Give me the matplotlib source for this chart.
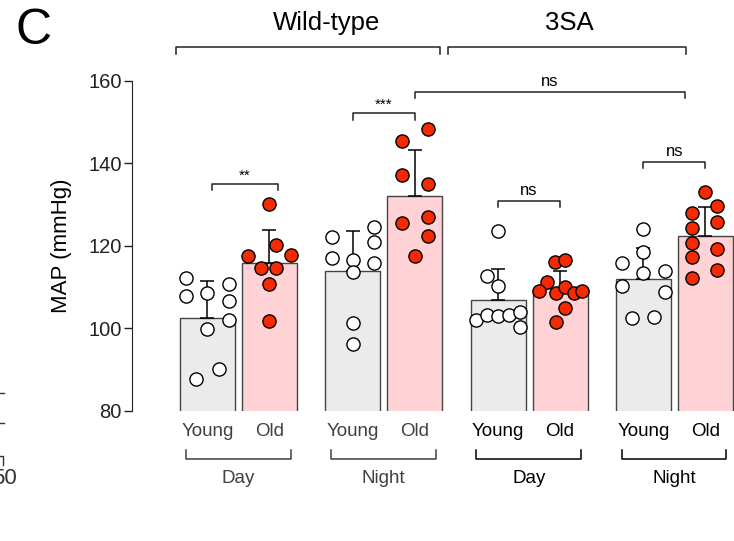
from matplotlib import pyplot as plt
import numpy as np

plt.rcParams['font.family'] = ['Liberation Sans', 'DejaVu Sans']

# bar order: WT day Y/O, WT night Y/O, 3SA day Y/O, 3SA night Y/O
genotypes = ['Wild-type', '3SA']
periods = ['Day', 'Night', 'Day', 'Night']
ages = ['Young', 'Old']

means = [102.5, 115.9, 113.9, 132.1, 106.8, 109.7, 112.0, 122.4]
sd = [9.0, 7.9, 9.7, 11.1, 7.6, 4.2, 7.4, 6.9]

points = [
    [112.1, 107.8, 108.5, 110.7, 106.7, 102.0, 99.7, 90.0, 87.8],
    [130.0, 117.6, 120.1, 117.7, 114.7, 114.7, 110.7, 101.8],
    [122.2, 116.9, 116.5, 113.6, 124.6, 120.8, 115.7, 101.2, 96.1],
    [145.4, 148.2, 137.1, 134.9, 125.4, 127.0, 122.4, 117.5],
    [123.6, 112.7, 110.3, 102.0, 103.2, 103.0, 103.2, 103.9, 100.4],
    [116.0, 116.5, 111.3, 109.1, 108.6, 109.9, 108.5, 109.1, 104.8, 101.6],
    [124.0, 118.4, 115.7, 113.3, 113.9, 110.2, 108.8, 102.4, 102.8],
    [133.1, 129.7, 127.9, 125.7, 124.4, 120.7, 119.1, 117.2, 114.1, 112.2],
]
jitter = [
    [-0.35, -0.35, 0, 0.35, 0.35, 0.35, 0, 0.18, -0.18],
    [0, -0.35, 0.11, 0.34, -0.13, 0.11, 0, 0],
    [-0.34, -0.34, 0, 0, 0.34, 0.34, 0.34, 0, 0],
    [-0.21, 0.21, -0.21, 0.21, -0.21, 0.21, 0.21, 0],
    [0, -0.18, 0, -0.35, -0.18, 0, 0.18, 0.35, 0.35],
    [-0.08, 0.08, -0.21, -0.34, -0.065, 0.08, 0.23, 0.35, 0.08, -0.065],
    [0, 0, -0.34, 0, 0.35, -0.34, 0.35, -0.18, 0.17],
    [0, 0.19, -0.21, 0.19, -0.21, -0.21, 0.19, -0.21, 0.19, -0.21],
]

# (left bar, right bar, label, bracket height)
sig = [(0, 1, '**', 135.0), (2, 3, '***', 152.1), (3, 7, 'ns', 157.3),
       (4, 5, 'ns', 130.9), (6, 7, 'ns', 140.4)]

pitch = 2.343
xpos = []
for g in range(4):
    xpos += [g * pitch, g * pitch + 1]
xpos = np.array(xpos)

fig = plt.figure(figsize=(7.34, 5.41), dpi=100)
ax = fig.add_axes([0.1794, 0.2409, 0.8206, 0.6099])

fill = ['#ebebeb', '#ffd2d6']
dot = ['white', '#f52a00']
for i in range(8):
    a = i % 2
    ax.bar(xpos[i], means[i], width=0.887, bottom=0, color=fill[a],
           edgecolor='#444444', linewidth=1.0, zorder=1)
    ax.errorbar(xpos[i], means[i], yerr=[[0], [sd[i]]], fmt='none',
                ecolor='black', elinewidth=1.1, capsize=5, capthick=1.1, zorder=2)
    ax.scatter(xpos[i] + np.array(jitter[i]), points[i], s=90, c=dot[a],
               edgecolors='black', linewidths=1.0, zorder=3, clip_on=False)

ax.set_ylim(80, 160)
ax.set_xlim(-1.2226, 8.492)
ax.set_yticks([80, 100, 120, 140, 160])
ax.tick_params(axis='y', labelsize=14.5, length=6, width=1.0, colors='#222222', pad=1)
ax.tick_params(axis='x', bottom=False, labelbottom=False)
for s in ['top', 'right', 'bottom']:
    ax.spines[s].set_visible(False)
ax.spines['left'].set_bounds(80, 160)
ax.spines['left'].set_color('#222222')
ax.set_ylabel('MAP (mmHg)', fontsize=16, labelpad=12)

lk = dict(color='#222222', linewidth=1.1, clip_on=False)

# significance brackets
for l, r, txt, h in sig:
    x0, x1 = xpos[l], xpos[r]
    if txt == '**':
        x0, x1 = x0 + 0.08, x1 + 0.13
    if r == 7 and l == 3:
        x1 = x1 - 0.32
    ax.plot([x0, x0, x1, x1], [h - 1.6, h, h, h - 1.6], **lk)
    if txt == 'ns':
        ax.text((x0 + x1) / 2, h + 0.7, txt, ha='center', va='bottom', fontsize=12)
    else:
        ax.text((x0 + x1) / 2, h + 0.3, txt, ha='center', va='bottom', fontsize=11)

# genotype brackets on top
ax.plot([-0.5, -0.5, 3.757, 3.757], [166.4, 168.2, 168.2, 166.4], **lk)
ax.plot([3.88, 3.88, 7.71, 7.71], [166.4, 168.2, 168.2, 166.4], **lk)
ax.text(1.92, 174.0, genotypes[0], ha='center', va='center', fontsize=18.5)
ax.text(5.84, 174.0, genotypes[1], ha='center', va='center', fontsize=18.5)

# age labels and period brackets below
for g in range(4):
    c = '#404040' if g < 2 else 'black'
    for a in range(2):
        ax.text(xpos[2 * g + a], 74.9, ages[a], ha='center', va='center',
                fontsize=13.5, color=c, clip_on=False)
    x0, x1 = xpos[2 * g] - 0.35, xpos[2 * g + 1] + 0.34
    ax.plot([x0, x0, x1, x1], [70.4, 68.2, 68.2, 70.4], color=c,
            linewidth=1.1, clip_on=False)
    ax.text((x0 + x1) / 2, 63.6, periods[g], ha='center', va='center',
            fontsize=13.5, color=c)

fig.text(15 / 734, 1 - 31 / 541, 'C', fontsize=36, ha='left', va='center')

# bits of the neighbouring panel cut off at the left edge
for yy in [393.3, 422.7]:
    fig.add_artist(plt.Line2D([0, 4 / 734], [1 - yy / 541] * 2, color='#333333', lw=1.0))
fig.add_artist(plt.Line2D([0, 3 / 734, 3 / 734], [1 - 456 / 541, 1 - 456 / 541, 1 - 465 / 541],
                          color='#333333', lw=1.0))
fig.text(17 / 734, 1 - 479 / 541, '50', fontsize=16, ha='right', va='center', color='#333333')

fig.savefig('out.png', dpi=100)
